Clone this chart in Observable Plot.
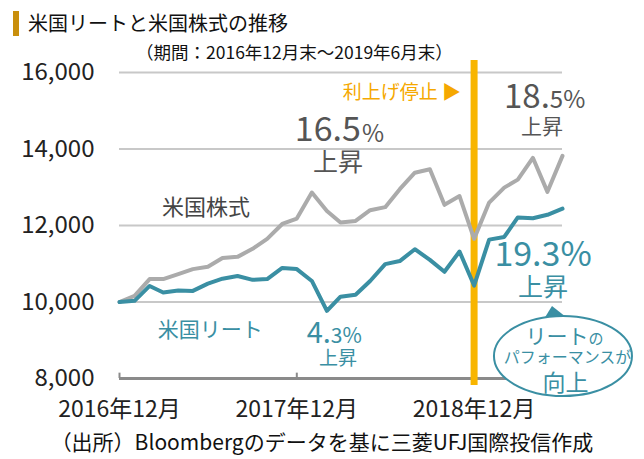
<!DOCTYPE html>
<html>
<head>
<meta charset="utf-8">
<script src="https://cdn.jsdelivr.net/npm/d3@7"></script>
<script src="https://cdn.jsdelivr.net/npm/@observablehq/plot@0.6"></script>
<style>
  html, body { margin: 0; padding: 0; background: #fff; }
  body { font-family: "Noto Sans CJK JP", "Noto Sans", sans-serif; }
  #wrap { position: relative; width: 644px; height: 459px; overflow: hidden; }
  #wrap svg { position: absolute; left: 0; top: 0; }
  .abs { position: absolute; white-space: nowrap; line-height: 1; color: #111; }
</style>
</head>
<body>
<div id="wrap">
  <div class="abs" style="left:13px; top:11px; width:6px; height:25px; background:#c98f0c;"></div>
  <div class="abs" id="title" style="left:28px; top:13px; font-size:20px;"></div>
  <div class="abs" id="subtitle" style="left:136px; top:43px; font-size:17.5px;"></div>
  <div class="abs" id="caption" style="left:0; width:644px; text-align:center; top:431px; font-size:21px;"></div>
</div>
<script>
// ---- data ----
const titleText = "米国リートと米国株式の推移";
const subtitleText = "（期間：2016年12月末～2019年6月末）";
const captionText = "（出所）Bloombergのデータを基に三菱UFJ国際投信作成";

const months = [
  "2016-12-01","2017-01-01","2017-02-01","2017-03-01","2017-04-01","2017-05-01","2017-06-01",
  "2017-07-01","2017-08-01","2017-09-01","2017-10-01","2017-11-01","2017-12-01",
  "2018-01-01","2018-02-01","2018-03-01","2018-04-01","2018-05-01","2018-06-01",
  "2018-07-01","2018-08-01","2018-09-01","2018-10-01","2018-11-01","2018-12-01",
  "2019-01-01","2019-02-01","2019-03-01","2019-04-01","2019-05-01","2019-06-01"
];
const stocks = [10000,10160,10600,10600,10730,10860,10920,11150,11180,11390,11650,12040,12180,
  12860,12380,12080,12120,12400,12480,12950,13380,13470,12540,12770,11650,
  12600,12990,13200,13770,12880,13820];
const reits = [10000,10030,10420,10250,10300,10290,10480,10610,10680,10580,10600,10890,10860,
  10550,9770,10140,10190,10550,10990,11070,11380,11100,10790,11320,10430,
  11630,11700,12210,12190,12280,12440];

const yTicks = [8000, 10000, 12000, 14000, 16000];
const xTicks = ["2016-12-01", "2017-12-01", "2018-12-01"];
const xTickLabels = ["2016年12月", "2017年12月", "2018年12月"];
const pauseDate = "2018-12-01";
const pauseLabel = "利上げ停止 ▶";
const stockName = "米国株式";
const reitName = "米国リート";

// ---- build ----
document.getElementById("title").textContent = titleText;
document.getElementById("subtitle").textContent = subtitleText;
document.getElementById("caption").textContent = captionText;

const rows = months.map((m, i) => ({date: new Date(m), stock: stocks[i], reit: reits[i]}));
const xTickDates = xTicks.map(d => new Date(d));
const labelMap = new Map(xTickDates.map((d, i) => [+d, xTickLabels[i]]));

const teal = "#3a8fa3";
const grayText = "#555";
const F = "Noto Sans CJK JP";

function note(label, date, value, opts) {
  return Plot.text([label], {x: () => new Date(date), y: () => value, text: d => d, fontFamily: F, ...opts});
}

const bubbleDate = "2019-06-03", bubbleValue = 8575;

function bubble(index, scales) {
  const cx = scales.x(new Date(bubbleDate)), cy = scales.y(bubbleValue);
  const g = d3.create("svg:g");
  g.append("path")
    .attr("d", `M${cx - 19},${cy - 37}L${cx - 11},${cy - 50}L${cx + 3},${cy - 39}Z`)
    .attr("fill", teal);
  g.append("ellipse")
    .attr("cx", cx).attr("cy", cy).attr("rx", 69).attr("ry", 40)
    .attr("fill", "#fff").attr("stroke", teal).attr("stroke-width", 2);
  return g.node();
}

const chart = Plot.plot({
  width: 644,
  height: 459,
  marginLeft: 119,
  marginRight: 82,
  marginTop: 72,
  marginBottom: 81,
  style: {fontFamily: F, background: "transparent", overflow: "visible"},
  x: {type: "utc", domain: [new Date(months[0]), new Date(months[months.length - 1])]},
  y: {domain: [8000, 16000]},
  marks: [
    Plot.ruleY(yTicks.slice(1), {stroke: "#c8c8c8", strokeWidth: 2}),
    Plot.axisY(yTicks, {tickSize: 0, tickPadding: 25, fontSize: 24, fill: "#222",
      tickFormat: d3.format(","), label: null}),
    Plot.axisX(xTickDates, {tickSize: 0, tickPadding: 22, fontSize: 23, fill: "#222",
      tickFormat: d => labelMap.get(+d), label: null}),
    Plot.ruleY([8000], {stroke: "#8a8a8a", strokeWidth: 3}),
    Plot.ruleX(xTickDates, {y1: 8000, y2: 8140, stroke: "#8a8a8a", strokeWidth: 2}),
    Plot.ruleX([new Date(pauseDate)], {y1: 7817, y2: 16314, stroke: "#f8b500", strokeWidth: 7}),
    Plot.lineY(rows, {x: "date", y: "stock", stroke: "#ababab", strokeWidth: 4}),
    Plot.lineY(rows, {x: "date", y: "reit", stroke: teal, strokeWidth: 4}),
    note(pauseLabel, pauseDate, 15477, {textAnchor: "end", dx: -13, fontSize: 19, fill: "#f5a800"}),
    note("16.5", "2018-04-12", 14484, {textAnchor: "end", fontSize: 34, fill: grayText}),
    note("%", "2018-04-12", 14484, {textAnchor: "start", dx: 1, dy: 3.5, fontSize: 24, fill: grayText}),
    note("上昇", "2018-02-24", 13621, {fontSize: 25, fill: grayText}),
    note(stockName, "2017-05-28", 12471, {fontSize: 22, fill: "#444"}),
    note(reitName, "2017-06-06", 9255, {fontSize: 21, fill: teal}),
    note("4.", "2018-02-09", 9176, {textAnchor: "end", fontSize: 29, fill: teal}),
    note("3%", "2018-02-09", 9176, {textAnchor: "start", dy: 2.5, fontSize: 21, fill: teal}),
    note("上昇", "2018-02-24", 8523, {fontSize: 19, fill: teal}),
    note("18.", "2019-05-06", 15346, {textAnchor: "end", fontSize: 33, fill: grayText}),
    note("5%", "2019-05-06", 15346, {textAnchor: "start", dy: 3, fontSize: 24, fill: grayText}),
    note("上昇", "2019-04-20", 14562, {fontSize: 21, fill: grayText}),
    note("19.3%", "2019-04-22", 11216, {fontSize: 34, fill: teal}),
    note("上昇", "2019-04-22", 10353, {fontSize: 25, fill: teal}),
    bubble,
    note("リート", bubbleDate, bubbleValue, {textAnchor: "end", dx: 25, dy: -19, fontSize: 21, fill: teal}),
    note("の", bubbleDate, bubbleValue, {textAnchor: "start", dx: 25, dy: -17, fontSize: 15, fill: teal}),
    note("パフォーマンスが", bubbleDate, bubbleValue, {dx: 4, dy: 1, fontSize: 16, fill: teal}),
    note("向上", bubbleDate, bubbleValue, {dx: 2, dy: 27, fontSize: 23, fill: teal})
  ]
});
document.getElementById("wrap").appendChild(chart);
</script>
</body>
</html>
